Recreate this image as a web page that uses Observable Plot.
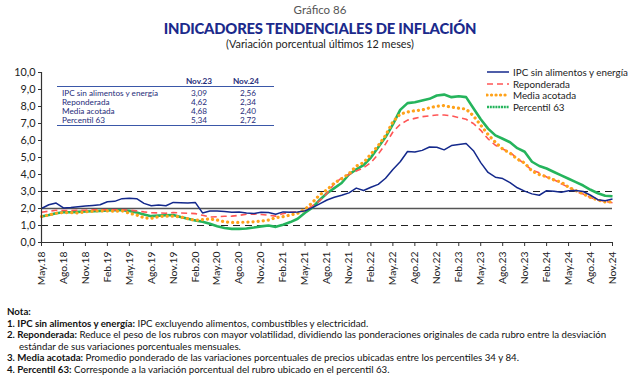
<!DOCTYPE html>
<html><head><meta charset="utf-8">
<script src="https://cdn.jsdelivr.net/npm/d3@7"></script>
<script src="https://cdn.jsdelivr.net/npm/@observablehq/plot@0.6"></script>
<style>
body{margin:0;width:640px;height:383px;background:#fff;font-family:Lato,"Open Sans",sans-serif;position:relative;overflow:hidden}
.c{position:absolute;left:0;width:640px;text-align:center;white-space:nowrap}
#g{top:3px;font-size:11.5px;line-height:14px;color:#555}
#t{top:19px;font-size:14.8px;line-height:18px;font-weight:900;color:#1b2a8c;letter-spacing:-0.2px}
#s{top:37px;font-size:10.8px;line-height:14px;color:#222}
#chart{position:absolute;left:0;top:60px}
#tbl{position:absolute;left:57px;top:75px;width:217px;height:52px;font-size:8.2px;color:#1f2d7a}
#tbl .ln{position:absolute;left:0;width:217px;height:0;border-top:1.5px solid #3a57a8}
#tbl .r{position:absolute;white-space:nowrap;line-height:9px}
#leg{position:absolute;left:486px;top:66px;font-size:9.8px;color:#222}
#leg .it{position:absolute;left:0;height:12px;white-space:nowrap;line-height:12px}
#leg svg{position:absolute;left:0;top:2px}
#leg span{position:absolute;left:27px;top:0}
#notes{position:absolute;left:7px;top:306px;font-size:9.7px;line-height:11.6px;color:#111}
#notes div{white-space:nowrap}
</style></head><body>
<div class="c" id="g">Gráfico 86</div>
<div class="c" id="t">INDICADORES TENDENCIALES DE INFLACIÓN</div>
<div class="c" id="s">(Variación porcentual últimos 12 meses)</div>
<div id="chart"></div>
<div id="tbl"></div>
<div id="leg"></div>
<div id="notes">
<div><b>Nota:</b></div>
<div><b>1. IPC sin alimentos y energía:</b> IPC excluyendo alimentos, combustibles y electricidad.</div>
<div><b>2. Reponderada:</b> Reduce el peso de los rubros con mayor volatilidad, dividiendo las ponderaciones originales de cada rubro entre la desviación</div>
<div style="padding-left:12px">estándar de sus variaciones porcentuales mensuales.</div>
<div><b>3. Media acotada:</b> Promedio ponderado de las variaciones porcentuales de precios ubicadas entre los percentiles 34 y 84.</div>
<div><b>4. Percentil 63:</b> Corresponde a la variación porcentual del rubro ubicado en el percentil 63.</div>
</div>
<script>
// Monthly data, May 2018 .. Nov 2024
const ipcSinAlimentos = [2.00,2.22,2.32,2.03,2.06,2.10,2.14,2.18,2.22,2.40,2.42,2.58,2.60,2.58,2.30,2.16,2.20,2.16,2.36,2.34,2.32,2.36,
1.74,1.85,1.86,1.82,1.78,1.80,1.74,1.70,1.78,1.76,1.66,1.80,1.78,1.80,1.86,2.05,2.27,2.50,2.66,2.78,2.92,3.20,3.06,3.25,3.42,3.78,
4.30,4.75,5.35,5.32,5.42,5.62,5.60,5.45,5.70,5.76,5.82,5.40,4.70,4.12,3.84,3.76,3.52,3.22,3.02,2.86,2.78,3.05,3.02,2.96,3.04,3.06,
3.00,2.78,2.52,2.46,2.56];
const reponderada = [1.78,1.84,1.90,1.88,1.88,1.90,1.90,1.92,1.92,1.92,1.92,1.92,1.90,1.86,1.80,1.76,1.74,1.72,1.76,1.74,1.72,1.70,
1.60,1.50,1.52,1.54,1.55,1.60,1.66,1.68,1.65,1.60,1.55,1.70,1.78,1.80,1.88,2.15,2.45,2.90,3.45,3.80,4.00,4.20,4.40,4.70,5.20,5.80,
6.50,6.95,7.20,7.30,7.40,7.45,7.50,7.50,7.45,7.35,7.25,7.00,6.60,6.10,5.72,5.50,5.30,4.95,4.62,4.25,4.10,3.85,3.70,3.45,3.25,3.00,
2.85,2.65,2.50,2.42,2.34];
const mediaAcotada = [1.53,1.62,1.72,1.76,1.76,1.74,1.80,1.84,1.86,1.86,1.84,1.86,1.72,1.62,1.45,1.42,1.52,1.55,1.55,1.50,1.40,1.30,
1.35,1.38,1.32,1.22,1.18,1.18,1.20,1.22,1.26,1.32,1.46,1.52,1.62,1.72,1.95,2.35,2.80,3.10,3.50,3.75,4.05,4.50,4.70,5.20,5.70,6.30,
7.10,7.55,7.68,7.75,7.80,7.92,8.02,8.05,7.96,7.90,7.85,7.45,6.90,6.35,5.90,5.50,5.25,4.90,4.68,4.20,4.00,3.86,3.68,3.55,3.25,3.05,
2.86,2.65,2.50,2.38,2.40];
const percentil63 = [1.53,1.62,1.72,1.78,1.78,1.80,1.82,1.84,1.86,1.88,1.90,1.90,1.86,1.76,1.65,1.55,1.58,1.60,1.62,1.50,1.40,1.30,
1.22,1.10,0.95,0.85,0.80,0.80,0.82,0.88,0.95,1.00,0.92,1.05,1.20,1.40,1.75,2.05,2.50,2.90,3.20,3.50,4.00,4.30,4.55,5.00,5.60,6.20,
6.95,7.80,8.20,8.25,8.35,8.45,8.65,8.70,8.55,8.60,8.55,7.90,7.25,6.70,6.30,6.10,5.90,5.55,5.34,4.75,4.50,4.35,4.15,3.95,3.75,3.55,
3.35,3.10,2.90,2.75,2.72];
const tickLabels = ["May.18","Ago.18","Nov.18","Feb.19","May.19","Ago.19","Nov.19","Feb.20","May.20","Ago.20","Nov.20","Feb.21",
"May.21","Ago.21","Nov.21","Feb.22","May.22","Ago.22","Nov.22","Feb.23","May.23","Ago.23","Nov.23","Feb.24","May.24","Ago.24","Nov.24"];
const seriesNames = ["IPC sin alimentos y energía","Reponderada","Media acotada","Percentil 63"];
const tableNov23 = ["3,09","4,62","4,68","5,34"];
const tableNov24 = ["2,56","2,34","2,40","2,72"];

const styles = {
  "IPC sin alimentos y energía": {stroke:"#14298c", strokeWidth:1.5, dash:null, cap:"butt", legDash:null},
  "Reponderada": {stroke:"#ff5555", strokeWidth:1.6, dash:"6,4", cap:"butt", legDash:"6,4"},
  "Media acotada": {stroke:"#ffa21a", strokeWidth:3.2, dash:"0.1,5", cap:"round", legDash:"0.1,4.4"},
  "Percentil 63": {stroke:"#25b45c", strokeWidth:2.6, dash:null, cap:"butt", legDash:"2,0.8"}
};
const allSeries = [ipcSinAlimentos, reponderada, mediaAcotada, percentil63];
const toRows = (arr, name) => arr.map((v, i) => ({i, v, name}));
const drawOrder = [3, 1, 2, 0];

const fmt = d => d.toFixed(1).replace(".", ",");
const marks = [
  Plot.ruleY([1, 3], {stroke:"#222", strokeWidth:1.2, strokeDasharray:"7,5"}),
  Plot.ruleY([2], {stroke:"#555", strokeWidth:1.6}),
  ...drawOrder.map(k => {
    const name = seriesNames[k], s = styles[name];
    return Plot.line(toRows(allSeries[k], name), {x:"i", y:"v", stroke:s.stroke, strokeWidth:s.strokeWidth,
      strokeDasharray:s.dash || undefined, strokeLinecap:s.cap, strokeLinejoin:"round"});
  }),
  Plot.ruleY([0], {stroke:"#333", strokeWidth:1.2}),
  Plot.ruleX([0], {stroke:"#333", strokeWidth:1.2}),
  Plot.axisY({ticks: d3.range(0, 11), tickFormat: fmt, tickSize:3, tickPadding:3, fontSize:10.8, stroke:"#333", color:"#222", label:null}),
  Plot.axisX({ticks: d3.range(0, 79, 3), tickFormat: d => tickLabels[d / 3], tickSize:4, tickPadding:5, tickRotate:-90, fontSize:10.3, stroke:"#333", color:"#222", label:null})
];
const svg = Plot.plot({
  width: 640, height: 240,
  marginTop: 12, marginBottom: 58, marginLeft: 41, marginRight: 28,
  x: {domain:[0, 78], label:null},
  y: {domain:[0, 10], label:null},
  style: {fontFamily:"Lato, 'Open Sans', sans-serif", background:"transparent", overflow:"visible"},
  marks
});
document.getElementById("chart").appendChild(svg);

// inset table
const tbl = document.getElementById("tbl");
const add = (html, css, cls) => { const d = document.createElement("div"); d.className = cls; d.style.cssText = css; d.innerHTML = html; tbl.appendChild(d); };
add("<b>Nov.23</b>", "left:123px;top:2px;width:38px;text-align:center", "r");
add("<b>Nov.24</b>", "left:170px;top:2px;width:38px;text-align:center", "r");
add("", "top:11px", "ln");
add("", "top:50px", "ln");
seriesNames.forEach((n, k) => {
  const top = 14 + k * 9;
  add(n, `left:5px;top:${top}px`, "r");
  add(tableNov23[k], `left:123px;top:${top}px;width:38px;text-align:center`, "r");
  add(tableNov24[k], `left:172px;top:${top}px;width:38px;text-align:center`, "r");
});

// legend
const leg = document.getElementById("leg");
seriesNames.forEach((n, k) => {
  const s = styles[n];
  const it = document.createElement("div");
  it.className = "it"; it.style.top = (k * 11.6) + "px";
  it.innerHTML = `<svg width="24" height="8"><line x1="1" y1="4" x2="23" y2="4" stroke="${s.stroke}" stroke-width="${s.strokeWidth}" ${s.legDash ? `stroke-dasharray="${s.legDash}"` : ""} stroke-linecap="${s.cap}"/></svg><span>${n}</span>`;
  leg.appendChild(it);
});
</script>
</body></html>
